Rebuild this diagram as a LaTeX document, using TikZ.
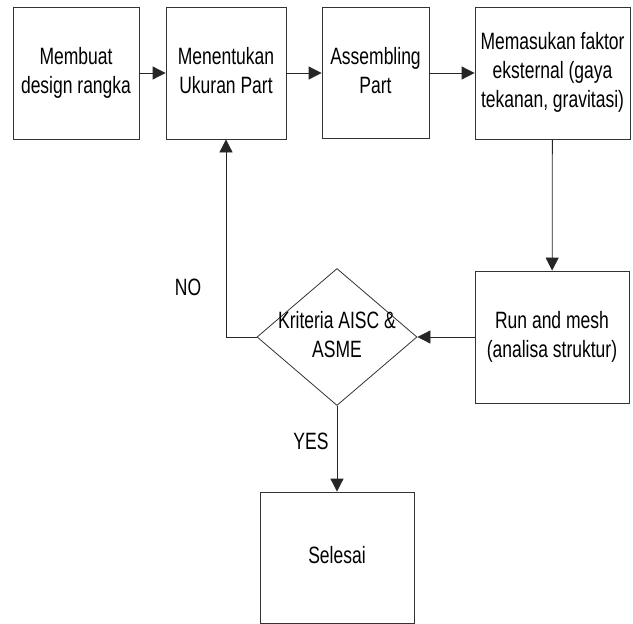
\documentclass[tikz,border=0pt]{standalone}
\usepackage{fontspec}
\setmainfont{Liberation Sans}
\usepackage{graphicx}
\usetikzlibrary{shapes.geometric,arrows.meta}
\newcommand\tb[1]{\scalebox{1}[1.35]{\fontsize{17.5}{21.5}\selectfont\begin{tabular}{@{}c@{}}#1\end{tabular}}}
\tikzset{
  boxs/.style={draw=black!80, line width=0.8pt, fill=white, inner sep=0pt},
  arr/.style={draw=black!85, line width=0.8pt, -{Triangle[length=13pt,width=13pt]}},
  lbl/.style={inner sep=0pt}
}
\begin{document}
\begin{tikzpicture}[x=1pt,y=-1pt]
\useasboundingbox[fill=white] (0,0) rectangle (633,624);
\node[boxs, minimum width=126pt, minimum height=132pt] (b1) at (76,73) {\tb{Membuat\\design rangka}};
\node[boxs, minimum width=120pt, minimum height=132pt] (b2) at (226,73) {\tb{Menentukan\\Ukuran Part}};
\node[boxs, minimum width=107pt, minimum height=131pt] (b3) at (375.5,73) {\tb{Assembling\\Part}};
\node[boxs, minimum width=155pt, minimum height=132pt] (b4) at (552.5,73) {\tb{Memasukan faktor\\eksternal (gaya\\tekanan, gravitasi)}};
\node[boxs, minimum width=154pt, minimum height=132pt] (b5) at (552,337) {\tb{Run and mesh\\(analisa struktur)}};
\node[diamond, draw=black!80, line width=0.8pt, minimum width=160pt, minimum height=137pt, inner sep=0pt] (d) at (337,337) {};
\node[lbl] (dt) at (d.center) {\tb{Kriteria AISC \&\\ASME}};
\node[boxs, minimum width=154pt, minimum height=131pt] (b6) at (337,557.5) {\tb{Selesai}};
\node[lbl] (no) at (188,290) {\tb{NO}};
\node[lbl] (yes) at (311,444) {\tb{YES}};
\draw[arr] (b1) -- (b2);
\draw[arr] (b2) -- (b3);
\draw[arr] (b3) -- (b4);
\draw[arr] (b4) -- (b5);
\draw[arr] (b5) -- (d);
\draw[arr] (d.west) -| (b2.south);
\draw[arr] (d) -- (b6);
\end{tikzpicture}
\end{document}
